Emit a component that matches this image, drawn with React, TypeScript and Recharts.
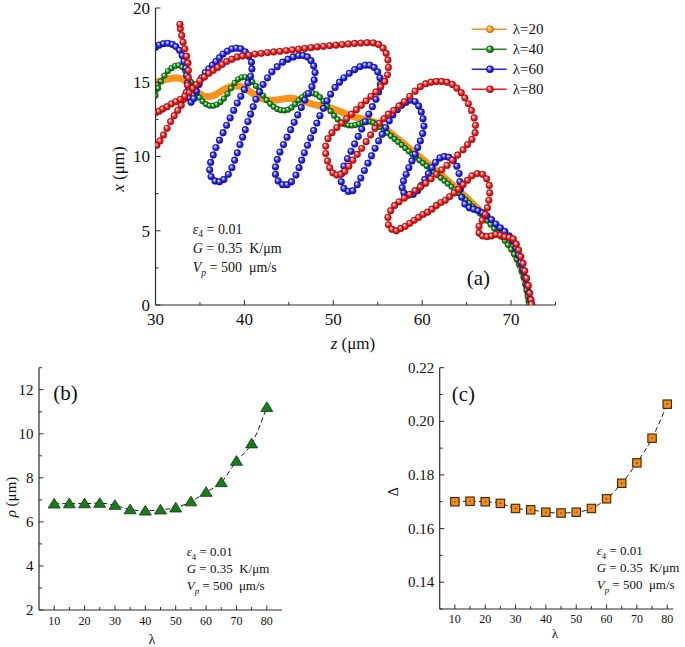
import React from 'react';
import { LineChart, Line, XAxis, YAxis, Legend } from 'recharts';

const FONT = '"Liberation Serif", "Times New Roman", Times, serif';
const AXIS = '#2b2b2b';

// ---------------- Panel (a): tip trajectories, x (um) vs z (um) ----------------
const zTicksA = [30, 35, 40, 45, 50, 55, 60, 65, 70, 75];
const xTicksA = [0, 2.5, 5, 7.5, 10, 12.5, 15, 17.5, 20];
const legendLabels = ['λ=20', 'λ=40', 'λ=60', 'λ=80'];

// [z, x]
const curveL20: number[][] = [
  [30.0, 15.0], [30.6, 15.1], [31.2, 15.2], [31.8, 15.27], [32.4, 15.3], [33.0, 15.22], [33.6, 15.0], [34.2, 14.65],
  [34.8, 14.3], [35.4, 14.08], [36.0, 14.02], [36.6, 14.12], [37.2, 14.32], [37.8, 14.55], [38.4, 14.7], [39.0, 14.77],
  [39.6, 14.72], [40.2, 14.55], [40.8, 14.3], [41.4, 14.05], [42.0, 13.88], [42.6, 13.8], [43.2, 13.78], [43.8, 13.82],
  [44.4, 13.88], [45.0, 13.92], [45.6, 13.9], [46.2, 13.82], [46.8, 13.7], [47.4, 13.58], [48.0, 13.48], [48.6, 13.4],
  [49.2, 13.33], [49.8, 13.25], [50.4, 13.12], [51.0, 12.98], [51.6, 12.82], [52.2, 12.7], [52.8, 12.6], [53.4, 12.52],
  [54.0, 12.44], [54.6, 12.32], [55.2, 12.12], [55.8, 11.88], [56.4, 11.6], [57.0, 11.32], [57.6, 11.03], [58.2, 10.73],
  [58.8, 10.43], [59.4, 10.13], [60.0, 9.83], [60.6, 9.53], [61.2, 9.23], [61.8, 8.93], [62.4, 8.62], [63.0, 8.31],
  [63.6, 7.99], [64.2, 7.66], [64.8, 7.33], [65.4, 6.99], [66.0, 6.65], [66.6, 6.3], [67.2, 5.93], [67.8, 5.55],
  [68.4, 5.15], [68.9, 4.78], [69.4, 4.4], [69.85, 4.02], [70.25, 3.62], [70.6, 3.2], [70.95, 2.75], [71.25, 2.28],
  [71.5, 1.8], [71.7, 1.3], [71.88, 0.75], [72.0, 0.3], [72.08, 0.05],
];

const curveL40: number[][] = [
  [30.0, 14.1], [30.3, 14.6], [30.6, 15.05], [31.0, 15.45], [31.4, 15.75], [31.8, 15.95], [32.2, 16.1], [32.6, 16.15],
  [33.0, 16.02], [33.35, 15.75], [33.7, 15.4], [34.0, 15.02], [34.3, 14.62], [34.6, 14.28], [34.95, 13.96], [35.3, 13.72],
  [35.7, 13.52], [36.1, 13.42], [36.5, 13.42], [36.9, 13.5], [37.3, 13.66], [37.7, 13.9], [38.1, 14.22], [38.5, 14.6],
  [38.9, 14.95], [39.3, 15.2], [39.7, 15.33], [40.1, 15.35], [40.5, 15.25], [40.9, 15.03], [41.3, 14.75], [41.7, 14.43],
  [42.1, 14.1], [42.5, 13.8], [42.9, 13.55], [43.3, 13.35], [43.7, 13.2], [44.1, 13.12], [44.5, 13.1], [44.9, 13.15],
  [45.3, 13.3], [45.7, 13.52], [46.1, 13.78], [46.5, 14.0], [46.9, 14.17], [47.3, 14.25], [47.7, 14.26], [48.1, 14.18],
  [48.5, 14.0], [48.9, 13.72], [49.3, 13.4], [49.7, 13.05], [50.1, 12.75], [50.5, 12.5], [50.9, 12.3], [51.3, 12.17],
  [51.7, 12.1], [52.1, 12.08], [52.5, 12.12], [52.9, 12.2], [53.3, 12.28], [53.7, 12.33], [54.1, 12.35], [54.5, 12.28],
  [54.9, 12.15], [55.3, 11.98], [55.7, 11.78], [56.1, 11.58], [56.5, 11.38], [56.9, 11.18], [57.3, 10.98], [57.7, 10.78],
  [58.1, 10.56], [58.5, 10.35], [58.9, 10.14], [59.3, 9.94], [59.7, 9.74], [60.1, 9.55], [60.5, 9.36], [60.9, 9.17],
  [61.3, 8.97], [61.7, 8.77], [62.1, 8.57], [62.5, 8.37], [62.9, 8.17], [63.3, 7.96], [63.7, 7.75], [64.1, 7.53],
  [64.5, 7.3], [64.9, 7.08], [65.3, 6.86], [65.7, 6.63], [66.1, 6.4], [66.5, 6.16], [66.9, 5.92], [67.3, 5.68],
  [67.7, 5.42], [68.1, 5.15], [68.5, 4.87], [68.9, 4.6], [69.3, 4.32], [69.65, 4.05], [70.0, 3.75], [70.35, 3.42],
  [70.65, 3.08], [70.9, 2.72], [71.2, 2.25], [71.4, 1.85], [71.6, 1.4], [71.75, 1.0], [71.88, 0.6], [72.0, 0.25],
  [72.05, 0.05],
];

const curveL60: number[][] = [
  [30.0, 17.35], [30.4, 17.5], [30.9, 17.6], [31.4, 17.62], [31.9, 17.55], [32.3, 17.4], [32.7, 17.15], [33.0, 16.8],
  [33.2, 16.4], [33.4, 15.95], [33.5, 15.45], [33.6, 14.95], [33.7, 14.45], [33.8, 13.95], [34.0, 13.65], [34.3, 13.9],
  [34.6, 14.4], [34.9, 14.85], [35.2, 15.3], [35.6, 15.65], [36.0, 15.9], [36.4, 16.15], [36.8, 16.4], [37.2, 16.65],
  [37.6, 16.9], [38.1, 17.1], [38.6, 17.25], [39.1, 17.3], [39.6, 17.25], [40.1, 17.05], [40.5, 16.75], [40.8, 16.35],
  [40.85, 15.9], [40.7, 15.4], [40.4, 14.95], [40.0, 14.5], [39.6, 14.05], [39.2, 13.6], [38.8, 13.1], [38.4, 12.6],
  [38.0, 12.1], [37.6, 11.6], [37.2, 11.1], [36.8, 10.6], [36.5, 10.1], [36.2, 9.6], [36.1, 9.1], [36.25, 8.65],
  [36.7, 8.35], [37.2, 8.3], [37.7, 8.45], [38.2, 8.8], [38.6, 9.25], [38.9, 9.75], [39.2, 10.25], [39.5, 10.8],
  [39.8, 11.3], [40.1, 11.8], [40.4, 12.35], [40.7, 12.85], [41.0, 13.35], [41.3, 13.85], [41.7, 14.35], [42.1, 14.85],
  [42.6, 15.3], [43.1, 15.7], [43.7, 16.05], [44.3, 16.35], [44.9, 16.55], [45.5, 16.7], [46.1, 16.8], [46.6, 16.8],
  [47.1, 16.7], [47.5, 16.45], [47.8, 16.1], [47.95, 15.65], [47.85, 15.15], [47.6, 14.7], [47.2, 14.25], [46.8, 13.8],
  [46.4, 13.3], [46.0, 12.8], [45.6, 12.3], [45.2, 11.8], [44.8, 11.3], [44.4, 10.8], [44.0, 10.3], [43.7, 9.8],
  [43.5, 9.3], [43.5, 8.8], [43.8, 8.35], [44.3, 8.1], [44.8, 8.1], [45.3, 8.3], [45.8, 8.75], [46.15, 9.25],
  [46.45, 9.75], [46.75, 10.25], [47.1, 10.75], [47.45, 11.25], [47.8, 11.75], [48.15, 12.25], [48.5, 12.75], [48.9, 13.25],
  [49.3, 13.75], [49.7, 14.2], [50.2, 14.65], [50.7, 15.0], [51.2, 15.3], [51.8, 15.6], [52.4, 15.85], [53.0, 16.05],
  [53.6, 16.15], [54.1, 16.15], [54.6, 16.0], [55.0, 15.7], [55.25, 15.3], [55.3, 14.85], [55.1, 14.35], [54.8, 13.85],
  [54.4, 13.35], [54.0, 12.85], [53.6, 12.35], [53.2, 11.85], [52.8, 11.35], [52.4, 10.85], [52.0, 10.35], [51.6, 9.85],
  [51.2, 9.35], [50.95, 8.85], [50.9, 8.3], [51.2, 7.85], [51.7, 7.65], [52.2, 7.7], [52.7, 8.1], [53.1, 8.55],
  [53.5, 9.05], [53.9, 9.55], [54.3, 10.05], [54.7, 10.55], [55.1, 11.05], [55.5, 11.5], [55.9, 11.95], [56.3, 12.4],
  [56.7, 12.8], [57.2, 13.15], [57.7, 13.45], [58.2, 13.65], [58.7, 13.8], [59.2, 13.7], [59.6, 13.4], [59.9, 13.0],
  [60.1, 12.55], [60.2, 12.05], [60.05, 11.55], [59.8, 11.05], [59.5, 10.6], [59.2, 10.15], [58.85, 9.7], [58.5, 9.25],
  [58.2, 8.8], [57.9, 8.35], [57.75, 7.9], [57.95, 7.55], [58.5, 7.4], [59.0, 7.45], [59.5, 7.7], [59.9, 8.05],
  [60.3, 8.45], [60.7, 8.85], [61.1, 9.25], [61.5, 9.6], [62.0, 9.9], [62.5, 10.0], [63.0, 9.95], [63.5, 9.75],
  [63.9, 9.35], [64.15, 8.85], [64.25, 8.3], [64.3, 7.8], [64.45, 7.25], [64.8, 6.8], [65.3, 6.55], [65.8, 6.45],
  [66.3, 6.35], [66.8, 6.2], [67.3, 6.0], [67.8, 5.75], [68.3, 5.45], [68.8, 5.2], [69.3, 4.95], [69.8, 4.65],
  [70.2, 4.3], [70.55, 3.85], [70.85, 3.35], [71.1, 2.85], [71.35, 2.35], [71.6, 1.85], [71.8, 1.35], [72.0, 0.85],
  [72.15, 0.4], [72.3, 0.05],
];

// λ=80 has two visible branches entering from the left edge
const curveL80a: number[][] = [
  [30.15, 10.75], [30.5, 11.05], [30.9, 11.45], [31.3, 11.9], [31.7, 12.35], [32.1, 12.75], [32.5, 13.1], [32.9, 13.45],
  [33.2, 13.85], [33.45, 14.3], [33.6, 14.8], [33.7, 15.3], [33.7, 15.8], [33.65, 16.3], [33.5, 16.75], [33.3, 17.25],
  [33.1, 17.7], [32.95, 18.15], [32.8, 18.6], [32.75, 18.9],
];
const curveL80b: number[][] = [
  [30.0, 12.95], [30.4, 13.05], [30.8, 13.2], [31.3, 13.35], [31.8, 13.55], [32.3, 13.7], [32.8, 13.85], [33.3, 14.05],
  [33.8, 14.3], [34.2, 14.6], [34.6, 14.85], [35.0, 15.1], [35.5, 15.35], [36.0, 15.6], [36.5, 15.8], [37.0, 16.0],
  [37.5, 16.2], [38.0, 16.4], [38.6, 16.55], [39.2, 16.7], [39.8, 16.77], [40.5, 16.83], [41.2, 16.9], [41.9, 16.95],
  [42.6, 17.0], [43.3, 17.04], [44.0, 17.08], [44.7, 17.13], [45.4, 17.18], [46.1, 17.23], [46.8, 17.28], [47.5, 17.33],
  [48.2, 17.38], [48.9, 17.42], [49.6, 17.46], [50.3, 17.5], [51.0, 17.54], [51.7, 17.58], [52.4, 17.61], [53.1, 17.64],
  [53.8, 17.66], [54.5, 17.65], [55.1, 17.55], [55.6, 17.3], [55.95, 16.95], [56.15, 16.5], [56.2, 16.0], [56.1, 15.5],
  [55.8, 15.05], [55.35, 14.7], [54.8, 14.35], [54.25, 14.05], [53.7, 13.75], [53.15, 13.45], [52.6, 13.15], [52.05, 12.85],
  [51.5, 12.55], [50.95, 12.25], [50.4, 11.95], [49.85, 11.6], [49.4, 11.2], [49.15, 10.7], [49.15, 10.2], [49.35, 9.7],
  [49.6, 9.25], [49.95, 8.9], [50.4, 8.75], [50.85, 8.8], [51.3, 9.0], [51.75, 9.35], [52.2, 9.75], [52.7, 10.15],
  [53.2, 10.55], [53.7, 11.0], [54.2, 11.45], [54.7, 11.9], [55.2, 12.25], [55.7, 12.55], [56.2, 12.85], [56.8, 13.1],
  [57.4, 13.4], [58.0, 13.7], [58.6, 14.05], [59.2, 14.4], [59.8, 14.7], [60.4, 14.9], [61.0, 15.0], [61.6, 15.05],
  [62.2, 15.05], [62.8, 15.0], [63.4, 14.85], [63.9, 14.6], [64.4, 14.3], [64.8, 13.95], [65.2, 13.55], [65.55, 13.1],
  [65.85, 12.6], [66.0, 12.1], [65.95, 11.6], [65.6, 11.15], [65.1, 10.8], [64.6, 10.45], [64.0, 10.1], [63.4, 9.75],
  [62.8, 9.4], [62.2, 9.1], [61.6, 8.8], [61.0, 8.5], [60.4, 8.2], [59.8, 7.95], [59.2, 7.7], [58.6, 7.45],
  [58.0, 7.2], [57.4, 6.95], [56.9, 6.7], [56.45, 6.35], [56.15, 5.9], [56.2, 5.4], [56.6, 5.1], [57.1, 5.0],
  [57.6, 5.15], [58.1, 5.3], [58.6, 5.5], [59.1, 5.7], [59.6, 5.9], [60.1, 6.1], [60.6, 6.25], [61.1, 6.45],
  [61.6, 6.7], [62.1, 6.9], [62.6, 7.05], [63.1, 7.3], [63.6, 7.55], [64.1, 7.8], [64.6, 8.1], [65.1, 8.4],
  [65.6, 8.7], [66.2, 8.85], [66.8, 8.8], [67.25, 8.5], [67.55, 8.05], [67.6, 7.55], [67.5, 7.05], [67.35, 6.55],
  [67.1, 6.1], [66.75, 5.7], [66.4, 5.3], [66.4, 4.85], [66.8, 4.65], [67.3, 4.6], [67.8, 4.65], [68.3, 4.75],
  [68.8, 4.7], [69.3, 4.6], [69.8, 4.55], [70.25, 4.45], [70.6, 4.1], [70.85, 3.7], [71.1, 3.25], [71.35, 2.8],
  [71.55, 2.3], [71.75, 1.8], [71.95, 1.3], [72.1, 0.8], [72.25, 0.35], [72.3, 0.05],
];

// ---------------- Panels (b), (c) ----------------
const lambdas = [10, 15, 20, 25, 30, 35, 40, 45, 50, 55, 60, 65, 70, 75, 80];
const rhoValues = [6.82, 6.83, 6.83, 6.85, 6.76, 6.56, 6.5, 6.55, 6.64, 6.92, 7.35, 7.79, 8.76, 9.55, 11.2];
const deltaValues = [0.17, 0.1702, 0.17, 0.1694, 0.1675, 0.167, 0.1661, 0.1658, 0.1661, 0.1675, 0.1711, 0.1769, 0.1845, 0.1937, 0.2064];
const lamTicks = [10, 15, 20, 25, 30, 35, 40, 45, 50, 55, 60, 65, 70, 75, 80];
const rhoTicks = [2, 3, 4, 5, 6, 7, 8, 9, 10, 11, 12, 13];
const deltaTicks = [0.13, 0.14, 0.15, 0.16, 0.17, 0.18, 0.19, 0.2, 0.21, 0.22];

const toXY = (arr: number[][]) => arr.map(([z, x]) => ({ z, x }));
const rhoData = lambdas.map((lam, i) => ({ lam, v: rhoValues[i] }));
const deltaData = lambdas.map((lam, i) => ({ lam, v: deltaValues[i] }));

const COLORS = {
  orange: '#f7941d',
  green: '#1f8a1f',
  blue: '#2626ee',
  red: '#ee1c1c',
};

type Side = 'bottom' | 'top' | 'left' | 'right';
function makeTick(
  side: Side,
  isMajor: (v: number) => boolean,
  opts: { label?: (v: number) => string; fontSize?: number; offset?: number; major?: number; minor?: number } = {}
) {
  return (props: any) => {
    const { x, y, payload } = props;
    const v = Number(payload.value);
    const mj = isMajor(v);
    const len = mj ? opts.major ?? 5 : opts.minor ?? 3;
    let l;
    if (side === 'bottom') l = <line x1={x} y1={y} x2={x} y2={y - len} stroke={AXIS} strokeWidth={1} />;
    else if (side === 'top') l = <line x1={x} y1={y} x2={x} y2={y + len} stroke={AXIS} strokeWidth={1} />;
    else if (side === 'left') l = <line x1={x} y1={y} x2={x + len} y2={y} stroke={AXIS} strokeWidth={1} />;
    else l = <line x1={x} y1={y} x2={x - len} y2={y} stroke={AXIS} strokeWidth={1} />;
    let t = null;
    if (mj && opts.label) {
      if (side === 'bottom')
        t = (
          <text x={x} y={y + (opts.offset ?? 15)} textAnchor="middle" fontFamily={FONT} fontSize={opts.fontSize} fill="#111">
            {opts.label(v)}
          </text>
        );
      else if (side === 'left')
        t = (
          <text x={x - (opts.offset ?? 6)} y={y} dy="0.34em" textAnchor="end" fontFamily={FONT} fontSize={opts.fontSize} fill="#111">
            {opts.label(v)}
          </text>
        );
    }
    return (
      <g>
        {l}
        {t}
      </g>
    );
  };
}

const sphereDot = (grad: string, r: number, edge: string) => (props: any) => {
  const { cx, cy, index } = props;
  if (cx == null || cy == null || Number.isNaN(cx) || Number.isNaN(cy)) return <g key={`e${index}`} />;
  return <circle key={`s${index}`} cx={cx} cy={cy} r={r} fill={`url(#${grad})`} stroke={edge} strokeWidth={0.35} />;
};

const triangleDot = (props: any) => {
  const { cx, cy, index } = props;
  if (cx == null || cy == null) return <g key={`t${index}`} />;
  return (
    <polygon
      key={`t${index}`}
      points={`${cx},${cy - 5.5} ${cx - 6},${cy + 4.2} ${cx + 6},${cy + 4.2}`}
      fill="#1c7a1c"
      stroke="#0b3a0b"
      strokeWidth={0.8}
    />
  );
};

const squareDot = (props: any) => {
  const { cx, cy, index } = props;
  if (cx == null || cy == null) return <g key={`q${index}`} />;
  return (
    <g key={`q${index}`}>
      <rect x={cx - 4.2} y={cy - 4.2} width={8.4} height={8.4} fill="#f08c1c" stroke="#3d2406" strokeWidth={1.1} />
      <circle cx={cx} cy={cy} r={0.8} fill="#5a3408" />
    </g>
  );
};

const axisLine = { stroke: AXIS, strokeWidth: 1.2 };

const Grad = ({ id, light, base, dark }: { id: string; light: string; base: string; dark: string }) => (
  <radialGradient id={id} cx="50%" cy="50%" r="50%" fx="33%" fy="30%">
    <stop offset="0%" stopColor="#ffffff" />
    <stop offset="22%" stopColor={light} />
    <stop offset="60%" stopColor={base} />
    <stop offset="100%" stopColor={dark} />
  </radialGradient>
);

const legendItems = [
  { label: legendLabels[0], color: COLORS.orange, grad: 'gOrange' },
  { label: legendLabels[1], color: COLORS.green, grad: 'gGreen' },
  { label: legendLabels[2], color: COLORS.blue, grad: 'gBlue' },
  { label: legendLabels[3], color: COLORS.red, grad: 'gRed' },
];

const LegendBox = () => (
  <svg width={95} height={82}>
    {legendItems.map((it, i) => {
      const y = 10.3 + i * 20;
      return (
        <g key={it.label}>
          <line x1={1.7} x2={36.7} y1={y} y2={y} stroke={it.color} strokeWidth={1.5} />
          <circle cx={20} cy={y} r={3.8} fill={`url(#${it.grad})`} />
          <text x={42.7} y={y} dy="0.34em" fontFamily={FONT} fontSize={15} fill="#111">
            {it.label}
          </text>
        </g>
      );
    })}
  </svg>
);

const ChartA = () => (
  <LineChart width={685} height={330} margin={{ top: 8, right: 129.5, bottom: 0, left: 0 }}>
    <XAxis
      dataKey="z"
      type="number"
      domain={[30, 75]}
      ticks={zTicksA}
      interval={0}
      allowDataOverflow
      height={25}
      tickSize={0}
      tickMargin={0}
      tickLine={false}
      axisLine={axisLine}
      tick={makeTick('bottom', (v) => v % 10 === 0, { label: (v) => String(v), fontSize: 17, offset: 19.5, major: 5, minor: 3 })}
    />
    <XAxis
      xAxisId="top"
      orientation="top"
      type="number"
      domain={[30, 75]}
      ticks={zTicksA}
      interval={0}
      allowDataOverflow
      height={0}
      tickSize={0}
      tickMargin={0}
      tickLine={false}
      axisLine={axisLine}
      tick={makeTick('top', (v) => v % 10 === 0, { major: 5, minor: 3 })}
    />
    <YAxis
      type="number"
      domain={[0, 20]}
      ticks={xTicksA}
      interval={0}
      allowDataOverflow
      width={155.5}
      tickSize={0}
      tickMargin={0}
      tickLine={false}
      axisLine={axisLine}
      tick={makeTick('left', (v) => v % 5 === 0, { label: (v) => String(v), fontSize: 17, offset: 5.5, major: 5, minor: 3 })}
    />
    <YAxis
      yAxisId="right"
      orientation="right"
      type="number"
      domain={[0, 20]}
      ticks={xTicksA}
      interval={0}
      allowDataOverflow
      width={0}
      tickSize={0}
      tickMargin={0}
      tickLine={false}
      axisLine={axisLine}
      tick={makeTick('right', (v) => v % 5 === 0, { major: 5, minor: 3 })}
    />
    <Line
      data={toXY(curveL20)}
      dataKey="x"
      name={legendLabels[0]}
      stroke={COLORS.orange}
      strokeWidth={7}
      strokeLinecap="round"
      strokeLinejoin="round"
      dot={false}
      activeDot={false}
      isAnimationActive={false}
    />
    <Line
      data={toXY(curveL40)}
      dataKey="x"
      name={legendLabels[1]}
      stroke={COLORS.green}
      strokeWidth={3}
      dot={sphereDot('gGreen', 2.9, '#0d4d0d')}
      activeDot={false}
      isAnimationActive={false}
    />
    <Line
      data={toXY(curveL60)}
      dataKey="x"
      name={legendLabels[2]}
      stroke={COLORS.blue}
      strokeWidth={0.8}
      strokeDasharray="1.5 1.5"
      dot={sphereDot('gBlue', 3.4, '#10108a')}
      activeDot={false}
      isAnimationActive={false}
    />
    <Line
      data={toXY(curveL80a)}
      dataKey="x"
      name={legendLabels[3]}
      stroke={COLORS.red}
      strokeWidth={0.8}
      strokeDasharray="1.5 1.5"
      dot={sphereDot('gRed', 3.4, '#8a0f0f')}
      activeDot={false}
      isAnimationActive={false}
      legendType="none"
    />
    <Line
      data={toXY(curveL80b)}
      dataKey="x"
      name={legendLabels[3] + ' '}
      stroke={COLORS.red}
      strokeWidth={0.8}
      strokeDasharray="1.5 1.5"
      dot={sphereDot('gRed', 3.4, '#8a0f0f')}
      activeDot={false}
      isAnimationActive={false}
    />
    <Legend
      layout="horizontal"
      verticalAlign="middle"
      align="center"
      content={() => <LegendBox />}
      wrapperStyle={{ position: 'absolute', top: 19, left: 470, width: 95, height: 82 }}
    />
  </LineChart>
);

const SmallChart = ({
  data,
  yDomain,
  yTicks,
  yMajor,
  yLabel,
  xDomain,
  yWidth,
  rightMargin,
  xHeight,
  xOffset,
  dot,
}: any) => (
  <LineChart width={340} height={307} margin={{ top: 27.7, right: rightMargin, bottom: 0, left: 0 }}>
    <XAxis
      dataKey="lam"
      type="number"
      domain={xDomain}
      ticks={lamTicks}
      interval={0}
      allowDataOverflow
      height={xHeight}
      tickSize={0}
      tickMargin={0}
      tickLine={false}
      axisLine={axisLine}
      tick={makeTick('bottom', (v) => v % 10 === 0, { label: (v) => String(v), fontSize: 12, offset: xOffset, major: 4.5, minor: 3 })}
    />
    <XAxis
      xAxisId="top"
      orientation="top"
      type="number"
      domain={xDomain}
      ticks={lamTicks}
      interval={0}
      allowDataOverflow
      height={0}
      tickSize={0}
      tickMargin={0}
      tickLine={false}
      axisLine={axisLine}
      tick={makeTick('top', (v) => v % 10 === 0, { major: 4.5, minor: 3 })}
    />
    <YAxis
      type="number"
      domain={yDomain}
      ticks={yTicks}
      interval={0}
      allowDataOverflow
      width={yWidth}
      tickSize={0}
      tickMargin={0}
      tickLine={false}
      axisLine={axisLine}
      tick={makeTick('left', yMajor, { label: yLabel, fontSize: 15, offset: 5.5, major: 4.5, minor: 3 })}
    />
    <YAxis
      yAxisId="right"
      orientation="right"
      type="number"
      domain={yDomain}
      ticks={yTicks}
      interval={0}
      allowDataOverflow
      width={0}
      tickSize={0}
      tickMargin={0}
      tickLine={false}
      axisLine={axisLine}
      tick={makeTick('right', yMajor, { major: 4.5, minor: 3 })}
    />
    <Line
      data={data}
      dataKey="v"
      type="monotone"
      stroke="#1a1a1a"
      strokeWidth={1}
      strokeDasharray="5 3"
      dot={dot}
      activeDot={false}
      isAnimationActive={false}
    />
  </LineChart>
);

const Params = ({ x, y, size, gap }: { x: number; y: number; size: number; gap: number }) => (
  <g fontFamily={FONT} fontSize={size} fill="#111">
    <text x={x} y={y}>
      <tspan fontStyle="italic">ε</tspan>
      <tspan fontSize={size * 0.68} dy={size * 0.28}>
        4
      </tspan>
      <tspan dy={-size * 0.28}>{'\u00a0=\u00a00.01'}</tspan>
    </text>
    <text x={x} y={y + gap}>
      <tspan fontStyle="italic">G</tspan>
      <tspan>{'\u00a0=\u00a00.35\u00a0\u00a0K/μm'}</tspan>
    </text>
    <text x={x} y={y + 2 * gap}>
      <tspan fontStyle="italic">V</tspan>
      <tspan fontStyle="italic" fontSize={size * 0.68} dy={size * 0.28}>
        p
      </tspan>
      <tspan dy={-size * 0.28}>{'\u00a0=\u00a0500\u00a0\u00a0μm/s'}</tspan>
    </text>
  </g>
);

export default function App() {
  return (
    <div style={{ position: 'absolute', left: 0, top: 0, width: 685, height: 647, background: '#fff', overflow: 'hidden' }}>
      <div style={{ position: 'absolute', left: 0, top: 0 }}>
        <ChartA />
      </div>
      <div style={{ position: 'absolute', left: 0, top: 340 }}>
        <SmallChart
          data={rhoData}
          yDomain={[2, 13]}
          yTicks={rhoTicks}
          yMajor={(v: number) => v % 2 === 0}
          yLabel={(v: number) => String(v)}
          xDomain={[5, 85]}
          yWidth={39}
          rightMargin={58}
          xHeight={37}
          xOffset={15}
          dot={triangleDot}
        />
      </div>
      <div style={{ position: 'absolute', left: 345, top: 340 }}>
        <SmallChart
          data={deltaData}
          yDomain={[0.13, 0.22]}
          yTicks={deltaTicks}
          yMajor={(v: number) => Math.round(v * 100) % 2 === 0}
          yLabel={(v: number) => v.toFixed(2)}
          xDomain={[5, 82]}
          yWidth={94.7}
          rightMargin={11.7}
          xHeight={38}
          xOffset={14.3}
          dot={squareDot}
        />
      </div>
      <svg
        width={685}
        height={647}
        style={{ position: 'absolute', left: 0, top: 0, pointerEvents: 'none' }}
      >
        <defs>
          <Grad id="gOrange" light="#ffd7a0" base="#f7941d" dark="#c86400" />
          <Grad id="gGreen" light="#9be69b" base="#1f8a1f" dark="#0b520b" />
          <Grad id="gBlue" light="#b4b4ff" base="#2626ee" dark="#0a0a96" />
          <Grad id="gRed" light="#ffb0b0" base="#ee1c1c" dark="#a00a0a" />
        </defs>
        <g fontFamily={FONT} fill="#111">
          {/* panel (a) */}
          <text transform="translate(124,169) rotate(-90)" textAnchor="middle" fontSize={17}>
            <tspan fontStyle="italic">x</tspan>
            <tspan>{'\u00a0(μm)'}</tspan>
          </text>
          <text x={353} y={349} textAnchor="middle" fontSize={17}>
            <tspan fontStyle="italic">z</tspan>
            <tspan>{'\u00a0(μm)'}</tspan>
          </text>
          <text x={466.7} y={284.5} fontSize={21}>
            (a)
          </text>
          {/* panel (b) */}
          <text transform="translate(16,497) rotate(-90)" textAnchor="middle" fontSize={15}>
            <tspan fontStyle="italic">ρ</tspan>
            <tspan>{'\u00a0(μm)'}</tspan>
          </text>
          <text x={152} y={643.5} textAnchor="middle" fontSize={14}>
            λ
          </text>
          <text x={53.3} y={399.5} fontSize={21}>
            (b)
          </text>
          {/* panel (c) */}
          <text transform="translate(398.3,491.7) rotate(-90)" textAnchor="middle" fontSize={14}>
            Δ
          </text>
          <text x={555} y={638} textAnchor="middle" fontSize={13}>
            λ
          </text>
          <text x={451.7} y={401} fontSize={21}>
            (c)
          </text>
        </g>
        <Params x={192.7} y={233.5} size={14} gap={19.2} />
        <Params x={186.7} y={556} size={13} gap={17.2} />
        <Params x={596.7} y={555} size={13} gap={17.2} />
      </svg>
    </div>
  );
}
